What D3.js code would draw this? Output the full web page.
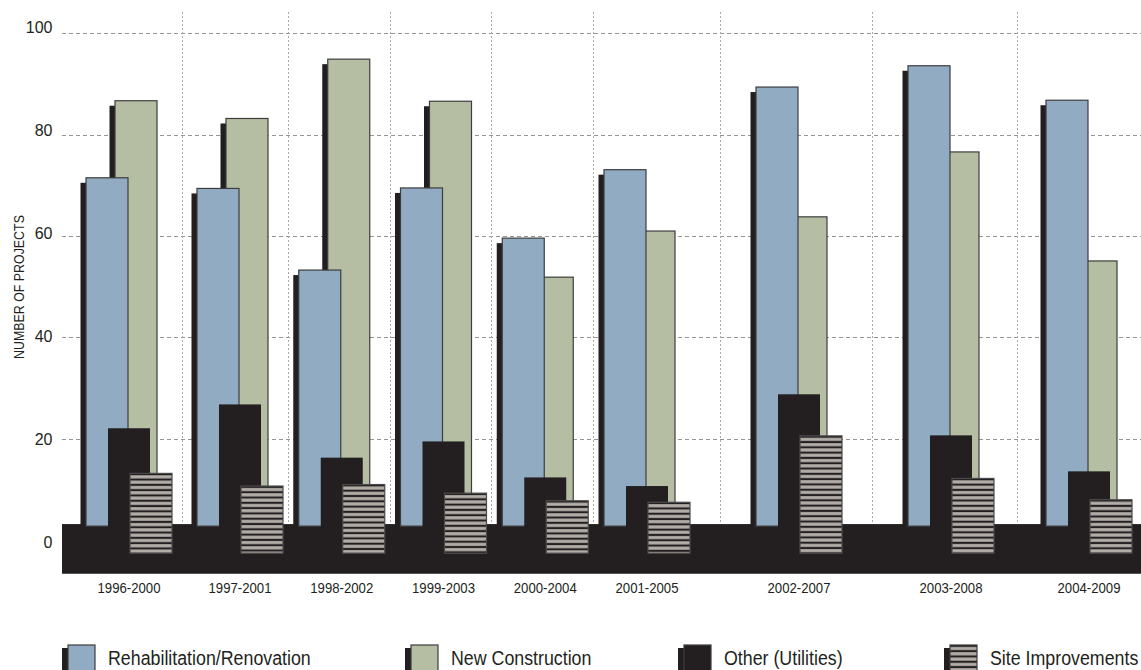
<!DOCTYPE html>
<html>
<head>
<meta charset="utf-8">
<script src="https://cdn.jsdelivr.net/npm/d3@7"></script>
<style>
  html, body { margin: 0; padding: 0; background: #fff; }
  svg { display: block; }
  text { font-family: "Liberation Sans", Arial, sans-serif; }
</style>
</head>
<body>
<svg id="chart" width="1141" height="670"></svg>
<script>
// ---------------- data ----------------
const categories = ["1996-2000", "1997-2001", "1998-2002", "1999-2003", "2000-2004",
                    "2001-2005", "2002-2007", "2003-2008", "2004-2009"];
const rehabilitation = [71.5, 69.4, 53.3, 69.5, 59.6, 73.1, 89.4, 93.6, 86.8];
const newConstruction = [86.7, 83.2, 94.9, 86.6, 51.9, 61.0, 63.8, 76.6, 55.1];
const otherUtilities = [22.1, 26.8, 16.3, 19.5, 12.4, 10.7, 28.8, 20.7, 13.6];
const siteImprovements = [13.2, 10.7, 11.0, 9.3, 7.8, 7.5, 20.6, 12.2, 8.0];
const yTicks = [0, 20, 40, 60, 80, 100];
const seriesNames = ["Rehabilitation/Renovation", "New Construction", "Other (Utilities)", "Site Improvements"];

// ---------------- styles ----------------
const BLUE = "#91abc3", GREEN = "#b5bea2", DARK = "#231f20", STRIPE = "#b2ada6";
const NARROW = 0.85; // horizontal squeeze to mimic the condensed face

const svg = d3.select("#chart");
const defs = svg.append("defs");

// scales
const y = d3.scaleLinear().domain([0, 100]).range([540.3, 33.3]);
const yLabel = d3.scaleLinear().domain([0, 100]).range([542.5, 27.5]);
const gx = d3.scaleLinear().domain([0, 1, 5, 7, 8]).range([86, 197, 604, 908, 1046]); // group left edge by index
const idx = d3.range(categories.length);

const BW = 42;             // bar width
const SHX = -5.5, SHY = 5; // shadow offset
const off = { rehab: 0, other: 22, newc: 29, site: 44 };
const plotLeft = 62, plotRight = 1141;

// ---------------- grid ----------------
svg.append("g").selectAll("line").data(yTicks.filter(d => d > 0)).join("line")
  .attr("x1", plotLeft).attr("x2", plotRight)
  .attr("y1", d => Math.round(y(d)) + 0.5).attr("y2", d => Math.round(y(d)) + 0.5)
  .attr("stroke", "#949494").attr("stroke-width", 1).attr("stroke-dasharray", "4,3");

svg.append("g").selectAll("line").data(idx.slice(0, -1)).join("line")
  .attr("x1", i => Math.round((gx(i) + gx(i + 1)) / 2 + 40) + 0.5)
  .attr("x2", i => Math.round((gx(i) + gx(i + 1)) / 2 + 40) + 0.5)
  .attr("y1", 12).attr("y2", y(3.2))
  .attr("stroke", "#a8a8a8").attr("stroke-width", 1).attr("stroke-dasharray", "2,2");

// ---------------- floor ----------------
svg.append("rect")
  .attr("x", plotLeft).attr("y", y(3.2))
  .attr("width", plotRight - plotLeft).attr("height", y(-6.6) - y(3.2))
  .attr("fill", DARK);

// ---------------- bars ----------------
function barGroup(values, key, fill, bottomVal, shadow, stroke) {
  const g = svg.append("g");
  if (shadow) {
    g.selectAll("rect.sh").data(idx).join("rect").attr("class", "sh")
      .attr("x", i => gx(i) + off[key] + SHX)
      .attr("y", i => y(values[i]) + SHY)
      .attr("width", BW)
      .attr("height", i => Math.max(0, y(bottomVal) - y(values[i]) - SHY + 2))
      .attr("fill", DARK);
  }
  g.selectAll("rect.b").data(idx).join("rect").attr("class", "b")
    .attr("x", i => gx(i) + off[key])
    .attr("y", i => y(values[i]))
    .attr("width", BW)
    .attr("height", i => y(bottomVal) - y(values[i]))
    .attr("fill", typeof fill === "function" ? fill : () => fill)
    .attr("stroke", stroke || "none")
    .attr("stroke-width", stroke ? 1.2 : 0);
  return g;
}

function stripePattern(id, yTop) {
  const p = defs.append("pattern").attr("id", id)
    .attr("patternUnits", "userSpaceOnUse")
    .attr("x", 0).attr("y", yTop).attr("width", 10).attr("height", 5.3);
  p.append("rect").attr("width", 10).attr("height", 5.3).attr("fill", DARK);
  p.append("rect").attr("y", 1.9).attr("width", 10).attr("height", 3.2).attr("fill", STRIPE);
}
idx.forEach(i => stripePattern("stripe" + i, y(siteImprovements[i])));
stripePattern("stripeLegend", 645);

barGroup(newConstruction, "newc", GREEN, 2.8, true, "#3d3d3d");
barGroup(rehabilitation, "rehab", BLUE, 2.8, true, "#3d3d3d");
barGroup(otherUtilities, "other", DARK, 0, false, null);
barGroup(siteImprovements, "site", i => `url(#stripe${i})`, -2.55, false, "#4a4a4a");

// ---------------- axes text ----------------
svg.append("g").selectAll("text").data(yTicks).join("text")
  .attr("x", 52.5).attr("y", d => yLabel(d))
  .attr("text-anchor", "end").attr("dominant-baseline", "central")
  .attr("font-size", 16).attr("fill", DARK)
  .text(d => d);

svg.append("text")
  .attr("transform", `translate(23.5,287) rotate(-90) scale(0.8,1)`)
  .attr("text-anchor", "middle")
  .attr("font-size", 15.5).attr("fill", DARK)
  .text("NUMBER OF PROJECTS");

svg.append("g").selectAll("text").data(idx).join("text")
  .attr("transform", i => `translate(${gx(i) + 43},593) scale(${NARROW},1)`)
  .attr("text-anchor", "middle")
  .attr("font-size", 15.5).attr("fill", DARK)
  .text(i => categories[i]);

// ---------------- legend ----------------
const legendX = [68, 411, 684, 950];
const legendFills = [BLUE, GREEN, DARK, "url(#stripeLegend)"];
const lg = svg.append("g").selectAll("g").data(seriesNames).join("g")
  .attr("transform", (d, i) => `translate(${legendX[i]},0)`);
lg.append("rect").attr("x", -6).attr("y", 648).attr("width", 27).attr("height", 30).attr("fill", DARK);
lg.append("rect").attr("x", 0).attr("y", 645).attr("width", 27).attr("height", 30)
  .attr("fill", (d, i) => legendFills[i]).attr("stroke", "#3d3d3d").attr("stroke-width", 1.2);
lg.append("text")
  .attr("transform", "translate(40,665) scale(0.89,1)")
  .attr("font-size", 20).attr("fill", DARK)
  .text(d => d);
</script>
</body>
</html>
